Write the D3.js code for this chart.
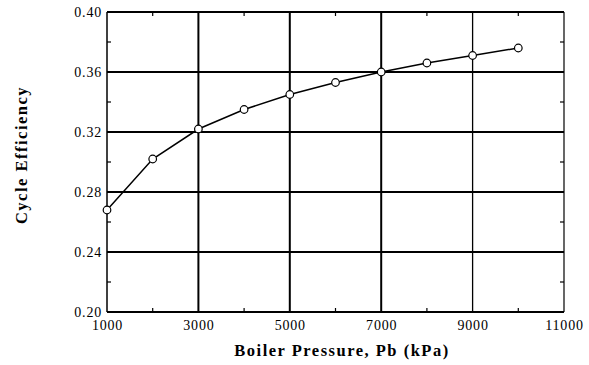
<!DOCTYPE html>
<html>
<head>
<meta charset="utf-8">
<script src="https://cdn.jsdelivr.net/npm/d3@7"></script>
<style>
  html, body { margin: 0; padding: 0; background: #fff; }
  svg { display: block; }
  .tick text { font-family: "Liberation Serif", "Times New Roman", serif; font-size: 14px; letter-spacing: 0.8px; fill: #000; }
</style>
</head>
<body>
<svg id="chart" width="589" height="365"></svg>
<script>
const pressure = [1000, 2000, 3000, 4000, 5000, 6000, 7000, 8000, 9000, 10000];
const efficiency = [0.268, 0.302, 0.322, 0.335, 0.345, 0.353, 0.360, 0.366, 0.371, 0.376];
const xTicks = [1000, 3000, 5000, 7000, 9000, 11000];
const yTicks = [0.20, 0.24, 0.28, 0.32, 0.36, 0.40];
const xMinor = [2000, 4000, 6000, 8000, 10000];
const yMinor = [0.22, 0.26, 0.30, 0.34, 0.38];

const svg = d3.select("#chart");
const L = 107, R = 564, T = 12, B = 312;
const x = d3.scaleLinear().domain([1000, 11000]).range([L, R]);
const y = d3.scaleLinear().domain([0.20, 0.40]).range([B, T]);

// grid
const g = svg.append("g");
g.selectAll(".vg").data(xTicks.slice(1, -1)).join("line")
  .attr("x1", d => x(d)).attr("x2", d => x(d)).attr("y1", T).attr("y2", B)
  .attr("stroke", "#000").attr("stroke-width", (d) => d === 9000 ? 1.3 : 2);
g.selectAll(".hg").data(yTicks.slice(1, -1)).join("line")
  .attr("x1", L).attr("x2", R).attr("y1", d => y(d)).attr("y2", d => y(d))
  .attr("stroke", "#000").attr("stroke-width", 2);

// frame
svg.append("line").attr("x1", L).attr("x2", R).attr("y1", T).attr("y2", T).attr("stroke", "#000").attr("stroke-width", 2);
svg.append("line").attr("x1", L).attr("x2", R).attr("y1", B).attr("y2", B).attr("stroke", "#000").attr("stroke-width", 2);
svg.append("line").attr("x1", L).attr("x2", L).attr("y1", T).attr("y2", B).attr("stroke", "#000").attr("stroke-width", 1.5);
svg.append("line").attr("x1", R).attr("x2", R).attr("y1", T).attr("y2", B).attr("stroke", "#000").attr("stroke-width", 1.2);

// minor ticks (inside)
svg.selectAll(".xm").data(xMinor).join("line")
  .attr("x1", d => x(d)).attr("x2", d => x(d)).attr("y1", B).attr("y2", B - 4)
  .attr("stroke", "#000").attr("stroke-width", 1.2);
svg.selectAll(".xmt").data(xMinor).join("line")
  .attr("x1", d => x(d)).attr("x2", d => x(d)).attr("y1", T).attr("y2", T + 4)
  .attr("stroke", "#000").attr("stroke-width", 1.2);
svg.selectAll(".ym").data(yMinor).join("line")
  .attr("x1", L).attr("x2", L + 4).attr("y1", d => y(d)).attr("y2", d => y(d))
  .attr("stroke", "#000").attr("stroke-width", 1.2);
svg.selectAll(".ymr").data(yMinor).join("line")
  .attr("x1", R).attr("x2", R - 4).attr("y1", d => y(d)).attr("y2", d => y(d))
  .attr("stroke", "#000").attr("stroke-width", 1.2);

// axes labels via d3 axes
const xAxis = svg.append("g").attr("transform", `translate(0,${B})`)
  .call(d3.axisBottom(x).tickValues(xTicks).tickFormat(d3.format("d")).tickSize(0).tickPadding(8));
xAxis.select(".domain").remove();
const yAxis = svg.append("g").attr("transform", `translate(${L},0)`)
  .call(d3.axisLeft(y).tickValues(yTicks).tickFormat(d3.format(".2f")).tickSize(0).tickPadding(5));
yAxis.select(".domain").remove();

// line + markers
const data = pressure.map((p, i) => ({p, e: efficiency[i]}));
svg.append("path").datum(data)
  .attr("d", d3.line().x(d => x(d.p)).y(d => y(d.e)))
  .attr("fill", "none").attr("stroke", "#000").attr("stroke-width", 1.5);
svg.selectAll(".pt").data(data).join("circle")
  .attr("cx", d => x(d.p)).attr("cy", d => y(d.e)).attr("r", 3.8)
  .attr("fill", "#fff").attr("stroke", "#000").attr("stroke-width", 1.2);

// titles
svg.append("text").attr("x", 342).attr("y", 356).attr("text-anchor", "middle")
  .attr("font-family", "Liberation Serif, serif").attr("font-weight", "bold")
  .attr("font-size", 16.5).attr("letter-spacing", 1.5)
  .text("Boiler Pressure, Pb (kPa)");
svg.append("text").attr("transform", "translate(27,155) rotate(-90)").attr("text-anchor", "middle")
  .attr("font-family", "Liberation Serif, serif").attr("font-weight", "bold")
  .attr("font-size", 16.5).attr("letter-spacing", 1.5)
  .text("Cycle Efficiency");
</script>
</body>
</html>
